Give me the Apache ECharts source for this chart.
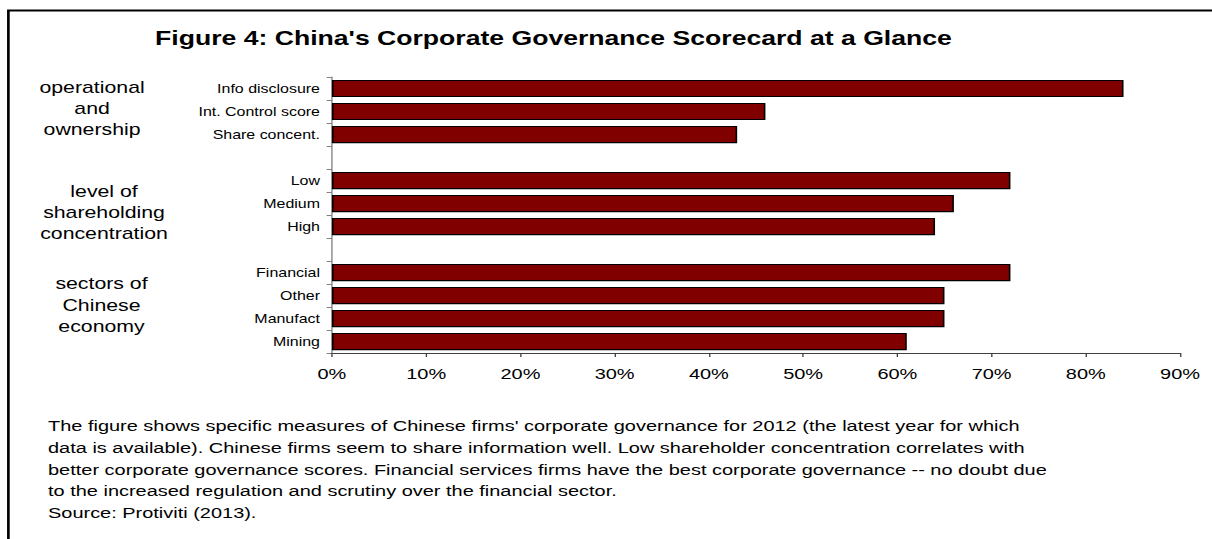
<!DOCTYPE html>
<html>
<head>
<meta charset="utf-8">
<title>China's Corporate Governance Scorecard</title>
<script src="https://cdn.jsdelivr.net/npm/echarts@6/dist/echarts.min.js"></script>
<style>
    html, body { margin: 0; padding: 0; background: #fff; overflow: hidden; }
    /* the original figure is drawn horizontally stretched, so we draw narrow and stretch */
    #chart { width: 911px; height: 539px; transform: scaleX(1.3304); transform-origin: 0 0; }
</style>
</head>
<body>
<div id="chart"></div>
<script>
    // data
    var categories = ['Info disclosure', 'Int. Control score', 'Share concent.', ' ',
                      'Low', 'Medium', 'High', '  ',
                      'Financial', 'Other', 'Manufact', 'Mining'];
    var scores = [84, 46, 43, null, 72, 66, 64, null, 72, 65, 65, 61];
    var groupLabels = ['operational\nand\nownership',
                       'level of\nshareholding\nconcentration',
                       'sectors of\nChinese\neconomy'];
    var titleText = "Figure 4: China's Corporate Governance Scorecard at a Glance";
    var noteLines = [
        "The figure shows specific measures of Chinese firms' corporate governance for 2012 (the latest year for which",
        "data is available). Chinese firms seem to share information well. Low shareholder concentration correlates with",
        "better corporate governance scores. Financial services firms have the best corporate governance -- no doubt due",
        "to the increased regulation and scrutiny over the financial sector.",
        "Source: Protiviti (2013)."
    ];

    var FONT = '"Liberation Sans", Arial, sans-serif';
    var myChart = echarts.init(document.getElementById('chart'), null, {renderer: 'svg'});

    var option = {
        animation: false,
        grid: {
            left: 249.5,
            top: 77,
            width: 637.5,
            height: 276
        },
        xAxis: {
            type: 'value',
            min: 0,
            max: 90,
            interval: 10,
            splitLine: { show: false },
            axisLine: { show: true, lineStyle: { color: '#404040', width: 1 } },
            axisTick: { show: true, length: 4, lineStyle: { color: '#404040' } },
            axisLabel: {
                formatter: '{value}%',
                color: '#000',
                fontFamily: FONT,
                fontSize: 15,
                margin: 13
            }
        },
        yAxis: {
            type: 'category',
            inverse: true,
            data: categories,
            axisLine: { show: true, lineStyle: { color: '#808080', width: 1 } },
            axisTick: { show: true, length: 4, lineStyle: { color: '#808080' } },
            axisLabel: {
                color: '#000',
                fontFamily: FONT,
                fontSize: 12,
                margin: 9
            }
        },
        series: [{
            type: 'bar',
            data: scores,
            barCategoryGap: '25%',
            itemStyle: {
                color: '#800000',
                borderColor: '#000',
                borderWidth: 1.2
            }
        }],
        graphic: [
            // frame
            {
                type: 'polyline',
                shape: { points: [[6.3, 539], [6.3, 10.5], [911, 10.5]] },
                style: { stroke: '#000', lineWidth: 2, fill: null }
            },
            {
                type: 'text',
                x: 416, y: 38.5,
                style: {
                    text: titleText,
                    font: 'bold 20px ' + FONT,
                    fill: '#000',
                    align: 'center',
                    verticalAlign: 'middle'
                }
            },
            {
                type: 'text',
                x: 69.2, y: 108,
                style: {
                    text: groupLabels[0],
                    font: '16px ' + FONT,
                    lineHeight: 21,
                    fill: '#000',
                    align: 'center',
                    verticalAlign: 'middle'
                }
            },
            {
                type: 'text',
                x: 78.2, y: 212.5,
                style: {
                    text: groupLabels[1],
                    font: '16px ' + FONT,
                    lineHeight: 21,
                    fill: '#000',
                    align: 'center',
                    verticalAlign: 'middle'
                }
            },
            {
                type: 'text',
                x: 76.3, y: 305,
                style: {
                    text: groupLabels[2],
                    font: '16px ' + FONT,
                    lineHeight: 21.5,
                    fill: '#000',
                    align: 'center',
                    verticalAlign: 'middle'
                }
            },
            {
                type: 'text',
                x: 36.1, y: 469.5,
                style: {
                    text: noteLines.join('\n'),
                    font: '15px ' + FONT,
                    lineHeight: 21.75,
                    fill: '#000',
                    align: 'left',
                    verticalAlign: 'middle'
                }
            }
        ]
    };
    myChart.setOption(option);
</script>
</body>
</html>
